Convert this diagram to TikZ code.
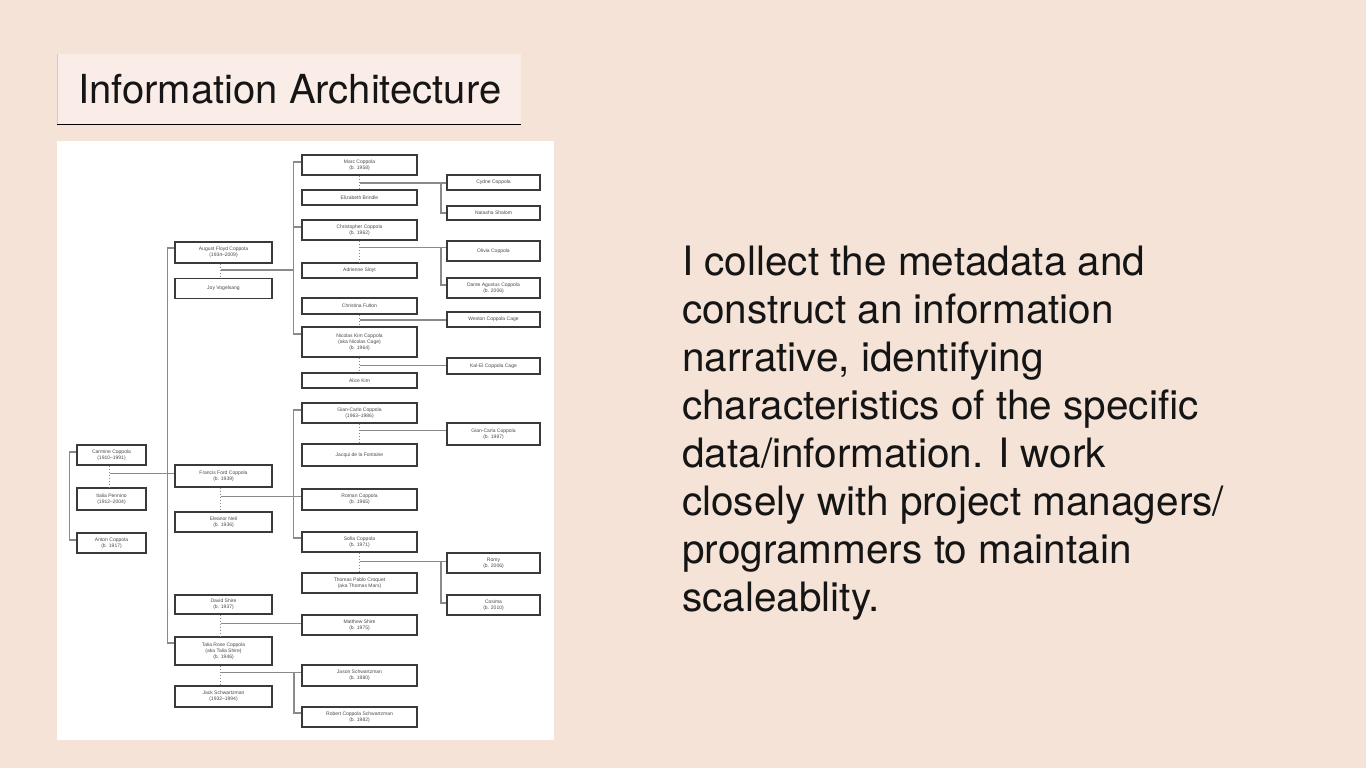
\documentclass[tikz,border=0pt]{standalone}
\usepackage{fontspec}
\setmainfont{TeX Gyre Heros}
\newfontfamily\treefont{Liberation Sans}
\usetikzlibrary{calc}
\definecolor{bgcol}{HTML}{F5E3D7}
\definecolor{titlefill}{HTML}{FAEDE8}
\definecolor{inkcol}{HTML}{151515}
\definecolor{linecol}{HTML}{8A8A8A}
\definecolor{boxline}{HTML}{3A3A3A}
\definecolor{treetext}{HTML}{4A4A4A}
\tikzset{
  fam/.style={draw=boxline, line width=1.4pt, fill=white, inner sep=0.5pt,
    align=center, text=treetext, font=\treefont\fontsize{5}{6}\selectfont},
  c1/.style={fam, minimum width=69pt},
  c2/.style={fam, minimum width=97pt},
  c3/.style={fam, minimum width=115pt},
  c4/.style={fam, minimum width=93pt},
  conn/.style={draw=linecol, line width=1.2pt},
  spouse/.style={draw=linecol, line width=0.9pt, dash pattern=on 1.5pt off 1.5pt},
}
\begin{document}
\begin{tikzpicture}[x=1pt,y=-1pt]
\useasboundingbox (0,0) rectangle (1366,768);
\fill[bgcol] (0,0) rectangle (1366,768);
% title
\fill[titlefill] (57,54) rectangle (521,124);
\draw[black!20, line width=0.6pt] (57,54) -- (57,124);
\draw[black, line width=0.8pt] (57,124) -- (521,124);
\node[anchor=base west, inner sep=0pt, text=inkcol, font=\fontsize{40}{48}\selectfont] (title) at (78,103) {Information Architecture};
% body text (base anchor = baseline of last line)
\node[anchor=base west, inner sep=0pt, align=left, text=inkcol, font=\fontsize{40.5}{48}\selectfont] (body) at (682,611)
{I collect the metadata and\\construct an information\\narrative, identifying\\characteristics of the specific\\data/information. I work\\closely with project managers/\\programmers to maintain\\scaleablity.};
% tree panel
\fill[white] (57,141) rectangle (554,740);
% column 1
\node[c1, minimum height=20pt] (carmine) at (111.5,455) {Carmine Coppola\\(1910–1991)};
\node[c1, minimum height=22pt] (italia) at (111.5,499) {Italia Pennino\\(1912–2004)};
\node[c1, minimum height=20pt] (anton) at (111.5,543) {Anton Coppola\\(b. 1917)};
% column 2
\node[c2, minimum height=21pt] (august) at (223.5,252.5) {August Floyd Coppola\\(1934–2009)};
\node[c2, minimum height=20pt] (joy) at (223.5,288.5) {Joy Vogelsang};
\node[c2, minimum height=22pt] (francis) at (223.5,476) {Francis Ford Coppola\\(b. 1939)};
\node[c2, minimum height=20pt] (eleanor) at (223.5,522) {Eleanor Neil\\(b. 1936)};
\node[c2, minimum height=19pt] (david) at (223.5,604.5) {David Shire\\(b. 1937)};
\node[c2, minimum height=28pt] (talia) at (223.5,651) {Talia Rose Coppola\\(aka Talia Shire)\\(b. 1946)};
\node[c2, minimum height=21pt] (jack) at (223.5,696.5) {Jack Schwartzman\\(1932–1994)};
% column 3
\node[c3, minimum height=20pt] (marc) at (359.5,165) {Marc Coppola\\(b. 1958)};
\node[c3, minimum height=15pt] (elizabeth) at (359.5,197.5) {Elizabeth Brindle};
\node[c3, minimum height=20pt] (christopher) at (359.5,230) {Christopher Coppola\\(b. 1962)};
\node[c3, minimum height=15pt] (adrienne) at (359.5,270.5) {Adrienne Sloyt};
\node[c3, minimum height=16pt] (christina) at (359.5,306) {Christina Fulton};
\node[c3, minimum height=30pt] (nicolas) at (359.5,342) {Nicolas Kim Coppola\\(aka Nicolas Cage)\\(b. 1964)};
\node[c3, minimum height=15pt] (alice) at (359.5,380.5) {Alice Kim};
\node[c3, minimum height=20pt] (giancarlo) at (359.5,413) {Gian-Carlo Coppola\\(1963–1986)};
\node[c3, minimum height=22pt] (jacqui) at (359.5,455) {Jacqui de la Fontaine};
\node[c3, minimum height=21pt] (roman) at (359.5,499.5) {Roman Coppola\\(b. 1965)};
\node[c3, minimum height=20pt] (sofia) at (359.5,542) {Sofia Coppola\\(b. 1971)};
\node[c3, minimum height=20pt] (thomas) at (359.5,583) {Thomas Pablo Croquet\\(aka Thomas Mars)};
\node[c3, minimum height=20pt] (matthew) at (359.5,625) {Matthew Shire\\(b. 1975)};
\node[c3, minimum height=21pt] (jason) at (359.5,675.5) {Jason Schwartzman\\(b. 1980)};
\node[c3, minimum height=20pt] (robert) at (359.5,717) {Robert Coppola Schwartzman\\(b. 1982)};
% column 4
\node[c4, minimum height=15pt] (cydne) at (493.5,182.5) {Cydne Coppola};
\node[c4, minimum height=14pt] (natasha) at (493.5,213) {Natasha Shalom};
\node[c4, minimum height=20pt] (olivia) at (493.5,251) {Olivia Coppola};
\node[c4, minimum height=20pt] (dante) at (493.5,288) {Dante Agustus Coppola\\(b. 2006)};
\node[c4, minimum height=15pt] (weston) at (493.5,319.5) {Weston Coppola Cage};
\node[c4, minimum height=16pt] (kalel) at (493.5,366) {Kal-El Coppola Cage};
\node[c4, minimum height=22pt] (giacarla) at (493.5,434) {Gian-Carla Coppola\\(b. 1987)};
\node[c4, minimum height=20pt] (romy) at (493.5,563) {Romy\\(b. 2006)};
\node[c4, minimum height=20pt] (cosima) at (493.5,605) {Cosima\\(b. 2010)};
% bracket x positions
\coordinate (bx3) at (294,0);
\coordinate (bx4) at (441,0);
% generation 1
\draw[conn] ([yshift=3pt]carmine.west) -- ++(-7,0) |- ([yshift=3pt]anton.west);
\draw[spouse] ([xshift=-2pt]carmine.south) -- ([xshift=-2pt]italia.north);
\coordinate (m1) at ($([xshift=-2pt]carmine.south)!0.35!([xshift=-2pt]italia.north)$);
\draw[conn] (m1) -- (m1 -| francis.west);
% generation 2
\draw[conn] ([yshift=4.5pt]august.west) -- ++(-7,0) |- ([yshift=8pt]talia.west);
\draw[spouse] ([xshift=-3pt]august.south) -- ([xshift=-3pt]joy.north);
\coordinate (m2) at ($([xshift=-3pt]august.south)!0.45!([xshift=-3pt]joy.north)$);
\draw[conn] (m2) -- (m2 -| bx3);
\draw[spouse] ([xshift=-3pt]francis.south) -- ([xshift=-3pt]eleanor.north);
\coordinate (m3) at ($([xshift=-3pt]francis.south)!0.36!([xshift=-3pt]eleanor.north)$);
\draw[conn] (m3) -- (m3 -| roman.west);
\draw[spouse] ([xshift=-3pt]david.south) -- ([xshift=-3pt]talia.north);
\coordinate (m4) at ($([xshift=-3pt]david.south)!0.39!([xshift=-3pt]talia.north)$);
\draw[conn] (m4) -- (m4 -| matthew.west);
\draw[spouse] ([xshift=-3pt]talia.south) -- ([xshift=-3pt]jack.north);
\coordinate (m5) at ($([xshift=-3pt]talia.south)!0.33!([xshift=-3pt]jack.north)$);
\draw[conn] (m5) -- (m5 -| jason.west);
\draw[conn] (m5 -| bx3) |- ([yshift=4pt]robert.west);
% generation 3 brackets
\draw[conn] ([yshift=3pt]marc.west) -- ++(-8,0) |- ([yshift=8pt]nicolas.west);
\draw[conn] ([yshift=3pt]christopher.west) -- ++(-8,0);
\draw[conn] ([yshift=3pt]giancarlo.west) -- ++(-8,0) |- ([yshift=4pt]sofia.west);
% generation 3 spouses
\draw[spouse] (marc.south) -- (elizabeth.north);
\coordinate (m6) at ($(marc.south)!0.53!(elizabeth.north)$);
\draw[conn] (m6) -- (m6 -| cydne.west);
\draw[conn] (m6 -| bx4) |- (natasha.west);
\draw[spouse] (christopher.south) -- (adrienne.north);
\coordinate (m7) at ($(christopher.south)!0.3!(adrienne.north)$);
\draw[conn] (m7) -- (m7 -| olivia.west);
\draw[conn] (m7 -| bx4) |- ([yshift=3pt]dante.west);
\draw[spouse] (christina.south) -- (nicolas.north);
\coordinate (m8) at ($(christina.south)!0.46!(nicolas.north)$);
\draw[conn] (m8) -- (m8 -| weston.west);
\draw[spouse] (nicolas.south) -- (alice.north);
\coordinate (m9) at ($(nicolas.south)!0.56!(alice.north)$);
\draw[conn] (m9) -- (m9 -| kalel.west);
\draw[spouse] (giancarlo.south) -- (jacqui.north);
\coordinate (m10) at ($(giancarlo.south)!0.33!(jacqui.north)$);
\draw[conn] (m10) -- (m10 -| giacarla.west);
\draw[spouse] (sofia.south) -- (thomas.north);
\coordinate (m11) at ($(sofia.south)!0.43!(thomas.north)$);
\draw[conn] (m11) -- (m11 -| romy.west);
\draw[conn] (m11 -| bx4) |- ([yshift=2pt]cosima.west);
\end{tikzpicture}
\end{document}
